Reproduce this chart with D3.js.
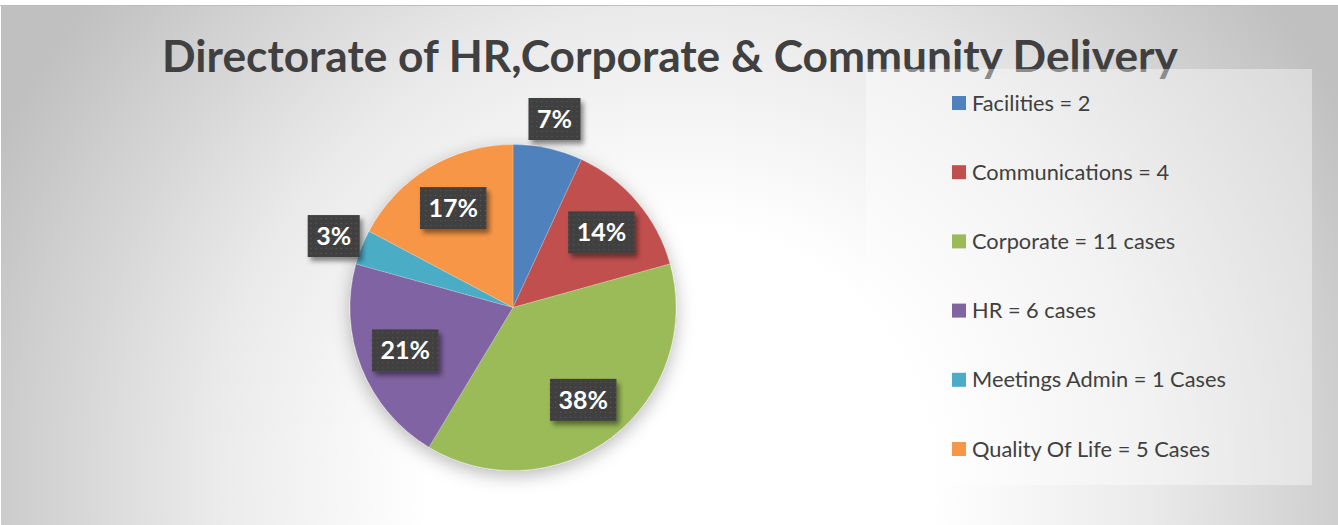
<!DOCTYPE html>
<html>
<head>
<meta charset="utf-8">
<script src="https://cdn.jsdelivr.net/npm/d3@7"></script>
<style>
  html, body { margin: 0; padding: 0; background: #fff; }
  svg { display: block; }
</style>
</head>
<body>
<svg id="chart"></svg>
<script>
// data
const categories = ["Facilities", "Communications", "Corporate", "HR", "Meetings Admin", "Quality Of Life"];
const values = [2, 4, 11, 6, 1, 5];
const legendLabels = ["Facilities = 2", "Communications = 4", "Corporate = 11 cases", "HR = 6 cases", "Meetings Admin = 1 Cases", "Quality Of Life = 5 Cases"];
const palette = ["#4F81BD", "#C0504D", "#9BBB59", "#8064A2", "#4BACC6", "#F79646"];
const titleText = "Directorate of HR,Corporate & Community Delivery";

const width = 1338, height = 525;
const svg = d3.select("#chart").attr("width", width).attr("height", height);
const defs = svg.append("defs");

// background gradient (light in the lower middle, grey to the corners)
const bg = defs.append("radialGradient")
    .attr("id", "bg")
    .attr("gradientUnits", "userSpaceOnUse")
    .attr("cx", 680).attr("cy", 480).attr("r", 760);
bg.append("stop").attr("offset", 0).attr("stop-color", "#ffffff");
bg.append("stop").attr("offset", 0.33).attr("stop-color", "#ffffff");
bg.append("stop").attr("offset", 0.62).attr("stop-color", "#eaeaea");
bg.append("stop").attr("offset", 1).attr("stop-color", "#c0c0c0");

// pie shadow
const pieShadow = defs.append("filter").attr("id", "pieShadow")
    .attr("x", "-20%").attr("y", "-20%").attr("width", "140%").attr("height", "140%");
pieShadow.append("feDropShadow")
    .attr("dx", 0).attr("dy", 5).attr("stdDeviation", 9)
    .attr("flood-color", "#000").attr("flood-opacity", 0.28);

// label box shadow
const boxShadow = defs.append("filter").attr("id", "boxShadow")
    .attr("x", "-30%").attr("y", "-30%").attr("width", "170%").attr("height", "170%");
boxShadow.append("feDropShadow")
    .attr("dx", 3).attr("dy", 4).attr("stdDeviation", 2.5)
    .attr("flood-color", "#000").attr("flood-opacity", 0.45);

// dotted fill for data label boxes
const dots = defs.append("pattern").attr("id", "dots")
    .attr("patternUnits", "userSpaceOnUse").attr("width", 5).attr("height", 5);
dots.append("rect").attr("width", 5).attr("height", 5).attr("fill", "#404040");
dots.append("rect").attr("x", 2).attr("y", 2).attr("width", 1).attr("height", 1).attr("fill", "#5e5e5e");

// chart area
svg.append("rect")
    .attr("x", 1).attr("y", 5).attr("width", width - 1).attr("height", height - 5)
    .attr("fill", "url(#bg)");
svg.append("line")
    .attr("x1", 0).attr("x2", width).attr("y1", 5.5).attr("y2", 5.5)
    .attr("stroke", "#bdbdbd");

// title
const title = svg.append("text")
    .attr("x", 670).attr("y", 72)
    .attr("text-anchor", "middle")
    .style("font-family", "Lato, 'Open Sans', sans-serif")
    .style("font-weight", 700)
    .style("font-size", "46px")
    .attr("fill", "#404040")
    .text(titleText);
const tw = title.node().getComputedTextLength();
title.style("font-size", (46 * 1016 / tw) + "px");

// legend
const legendBox = { x: 866, y: 69, w: 446, h: 416 };
svg.append("rect")
    .attr("x", legendBox.x).attr("y", legendBox.y)
    .attr("width", legendBox.w).attr("height", legendBox.h)
    .attr("fill", "#ffffff").attr("fill-opacity", 0.4);

const legendY = d3.scalePoint().domain(categories).range([103, 449]);
const legend = svg.append("g").attr("class", "legend")
    .selectAll("g")
    .data(categories)
    .enter()
    .append("g")
    .attr("transform", d => `translate(952,${legendY(d)})`);
legend.append("rect")
    .attr("x", 0).attr("y", -7).attr("width", 14).attr("height", 14)
    .attr("fill", (d, i) => palette[i]);
legend.append("text")
    .attr("x", 20).attr("y", 0)
    .attr("dy", "0.35em")
    .style("font-family", "Lato, 'Open Sans', sans-serif")
    .style("font-size", "21.8px")
    .attr("fill", "#404040")
    .text((d, i) => legendLabels[i]);

// pie
const cx = 513, cy = 307.5, radius = 163;
const total = d3.sum(values);
const pct = d3.format(".0%");
const pie = d3.pie().sort(null).value(d => d.value);
const arcs = pie(categories.map((c, i) => ({ name: c, value: values[i], color: palette[i] })));
const arc = d3.arc().innerRadius(0).outerRadius(radius);

const pieG = svg.append("g").attr("transform", `translate(${cx},${cy})`);
pieG.append("g")
    .attr("filter", "url(#pieShadow)")
    .selectAll("path")
    .data(arcs)
    .enter()
    .append("path")
    .attr("d", arc)
    .attr("fill", d => d.data.color)
    .attr("stroke", "#ffffff")
    .attr("stroke-opacity", 0.25)
    .attr("stroke-width", 0.8);

// data labels: inside for big slices, outside for small ones
const insideArc = d3.arc().innerRadius(232).outerRadius(0);
const outsideArc = d3.arc().innerRadius(386).outerRadius(0);
const labels = pieG.append("g").attr("class", "labels")
    .selectAll("g")
    .data(arcs)
    .enter()
    .append("g")
    .attr("transform", d => {
        const small = d.data.value / total < 0.1;
        const [x, y] = (small ? outsideArc : insideArc).centroid(d);
        return `translate(${x},${y})`;
    });

labels.append("text")
    .attr("text-anchor", "middle")
    .attr("dy", "0.36em")
    .style("font-family", "Lato, 'Open Sans', sans-serif")
    .style("font-weight", 700)
    .style("font-size", "25px")
    .attr("fill", "#ffffff")
    .text(d => pct(d.data.value / total));

labels.each(function() {
    const g = d3.select(this);
    const w = g.select("text").node().getComputedTextLength() + 17;
    g.insert("rect", "text")
        .attr("x", -w / 2).attr("y", -21)
        .attr("width", w).attr("height", 42)
        .attr("fill", "url(#dots)")
        .attr("filter", "url(#boxShadow)");
});
</script>
</body>
</html>
